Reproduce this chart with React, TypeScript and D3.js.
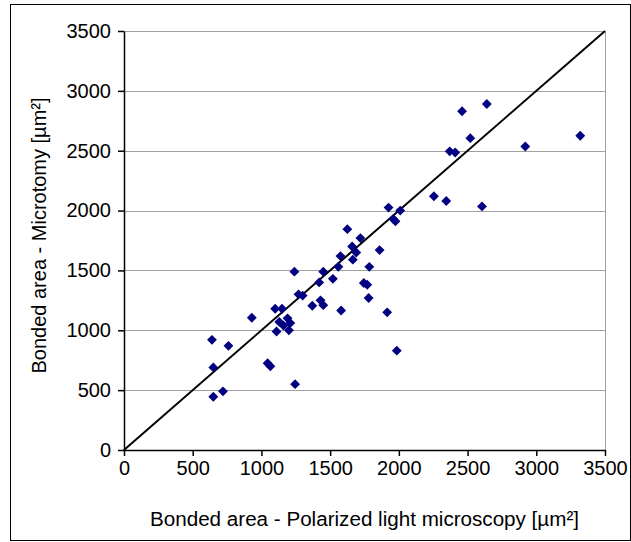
import React, { useRef, useEffect } from 'react';
import * as d3 from 'd3';

// bonded area measured by polarized light microscopy (x) vs microtomy (y), µm²
const polarized = [
  640, 650, 650, 760, 720, 930, 1045, 1065, 1245, 1240,
  1100, 1150, 1190, 1210, 1130, 1110, 1200, 1160, 1270, 1300,
  1370, 1420, 1430, 1450, 1450, 1520, 1580, 1560, 1575, 1625,
  1660, 1665, 1690, 1720, 1745, 1770, 1780, 1785, 1860, 1915,
  1985, 1925, 1960, 1975, 2010, 2255, 2345, 2370, 2410, 2460,
  2520, 2605, 2640, 2920, 3320,
];
const microtomy = [
  920, 690, 445, 870, 490, 1105, 725, 700, 550, 1490,
  1180, 1180, 1100, 1060, 1070, 990, 1000, 1040, 1300, 1290,
  1205, 1400, 1250, 1210, 1490, 1430, 1165, 1530, 1620, 1845,
  1700, 1590, 1650, 1770, 1395, 1380, 1270, 1530, 1670, 1150,
  830, 2025, 1930, 1910, 2000, 2120, 2080, 2495, 2485, 2830,
  2605, 2035, 2890, 2535, 2625,
];
const ticks = [0, 500, 1000, 1500, 2000, 2500, 3000, 3500];
const identity = [0, 3500];

export default function App() {
  const svgRef = useRef<SVGSVGElement | null>(null);

  useEffect(() => {
    if (!svgRef.current) return;
    const left = 124, right = 605, top = 31, bottom = 450;
    const font = 'Liberation Sans, Arial, sans-serif';
    const svg = d3.select(svgRef.current);
    svg.selectAll('*').remove();

    const x = d3.scaleLinear().domain([0, 3500]).range([left, right]);
    const y = d3.scaleLinear().domain([0, 3500]).range([bottom, top]);

    svg.append('rect').attr('x', 10.5).attr('y', 4.5).attr('width', 620).attr('height', 536)
      .attr('fill', 'white').attr('stroke', '#000').attr('stroke-width', 1);

    // gridlines
    svg.append('g').selectAll('line').data(ticks.slice(1)).join('line')
      .attr('x1', left).attr('x2', right)
      .attr('y1', (d) => Math.round(y(d)) + 0.5).attr('y2', (d) => Math.round(y(d)) + 0.5)
      .attr('stroke', '#a0a0a0').attr('stroke-width', 1);
    svg.append('line').attr('x1', right + 0.5).attr('x2', right + 0.5).attr('y1', top).attr('y2', bottom)
      .attr('stroke', '#a0a0a0');

    // axes
    const fmt = d3.format('d');
    const xAxis = svg.append('g').attr('transform', `translate(0,${bottom})`)
      .call(d3.axisBottom(x).tickValues(ticks).tickFormat(fmt).tickSize(6).tickSizeOuter(0).tickPadding(5));
    const yAxis = svg.append('g').attr('transform', `translate(${left},0)`)
      .call(d3.axisLeft(y).tickValues(ticks).tickFormat(fmt).tickSize(6).tickSizeOuter(0).tickPadding(7));
    [xAxis, yAxis].forEach((g) => {
      g.select('.domain').attr('stroke', '#000').attr('stroke-width', 1.5);
      g.selectAll('.tick line').attr('stroke', '#000').attr('stroke-width', 1.5);
      g.selectAll('.tick text').attr('fill', '#000').attr('font-family', font).attr('font-size', '20px');
    });

    // identity line
    const line = d3.line<number>().x((d) => x(d)).y((d) => y(d));
    svg.append('path').attr('d', line(identity)).attr('stroke', '#000').attr('stroke-width', 2).attr('fill', 'none');

    // diamonds
    const diamond = d3.symbol().type(d3.symbolDiamond2).size(62);
    svg.append('g').selectAll('path').data(polarized.map((v, i) => [v, microtomy[i]])).join('path')
      .attr('d', diamond)
      .attr('transform', (d) => `translate(${x(d[0])},${y(d[1])})`)
      .attr('fill', '#000080');

    svg.append('text').attr('x', (left + right) / 2).attr('y', 526).attr('text-anchor', 'middle')
      .attr('font-family', font).attr('font-size', '20px').attr('fill', '#000')
      .attr('textLength', 429).attr('lengthAdjust', 'spacingAndGlyphs')
      .text('Bonded area - Polarized light microscopy [µm²]');
    svg.append('text').attr('transform', `translate(46,${(top + bottom) / 2 - 5}) rotate(-90)`).attr('text-anchor', 'middle')
      .attr('font-family', font).attr('font-size', '20px').attr('fill', '#000')
      .text('Bonded area - Microtomy [µm²]');
  }, []);

  return (
    <svg ref={svgRef} width={631} height={542} style={{ position: 'absolute', left: 0, top: 0 }} />
  );
}
